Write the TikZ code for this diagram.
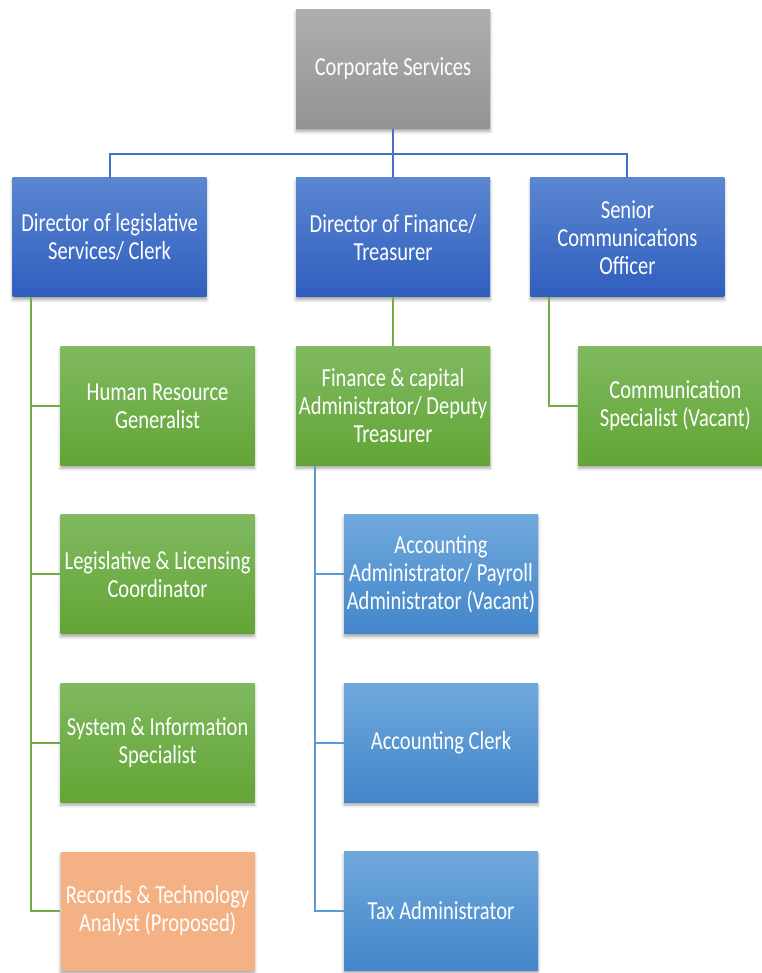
\documentclass[tikz,border=0pt]{standalone}
\usepackage{fontspec}
\setmainfont{Carlito}[FakeStretch=0.79]
\usepackage{tikz}
\usetikzlibrary{positioning}
\usetikzlibrary{shadows.blur}

\definecolor{linkblue}{HTML}{4472C4}
\definecolor{linkgreen}{HTML}{70AD47}
\definecolor{linklight}{HTML}{5B9BD5}

\begin{document}
\begin{tikzpicture}[x=1pt, y=1pt, node distance=49pt,
    box/.style={rectangle, minimum width=194pt, minimum height=119pt, inner sep=0pt,
        align=center, text=white, font=\fontsize{26}{28}\selectfont,
        blur shadow={shadow xshift=0pt, shadow yshift=-3pt, shadow blur radius=3pt, shadow opacity=35}},
    graybox/.style={box, top color={rgb,255:red,174;green,174;blue,174}, bottom color={rgb,255:red,147;green,147;blue,147}},
    bluebox/.style={box, top color={rgb,255:red,91;green,134;blue,209}, bottom color={rgb,255:red,47;green,94;blue,190}},
    greenbox/.style={box, top color={rgb,255:red,128;green,185;blue,96}, bottom color={rgb,255:red,98;green,165;blue,53}},
    lightbox/.style={box, top color={rgb,255:red,111;green,168;blue,220}, bottom color={rgb,255:red,67;green,134;blue,202}},
    orangebox/.style={box, fill={rgb,255:red,244;green,177;blue,131}},
    bluelink/.style={draw=linkblue, line width=2pt},
    greenlink/.style={draw=linkgreen, line width=2pt},
    lightlink/.style={draw=linklight, line width=2pt}]
    \useasboundingbox (0,0) rectangle (761,-973);

    %Boxes
    \node (corp) [graybox] at (393,-69) {Corporate Services};
    \node (dirfin) [bluebox, below=of corp] {Director of Finance/\\Treasurer};
    \node (dirleg) [bluebox, left=89pt of dirfin] {Director of legislative\\Services/ Clerk};
    \node (dirsen) [bluebox, right=40pt of dirfin] {Senior\\Communications\\Officer};

    \node (hr) [greenbox, below=of dirleg, xshift=48pt] {Human Resource\\Generalist};
    \node (legis) [greenbox, below=of hr] {Legislative \& Licensing\\Coordinator};
    \node (sysinfo) [greenbox, below=of legis] {System \& Information\\Specialist};
    \node (records) [orangebox, below=of sysinfo] {Records \& Technology\\Analyst (Proposed)};

    \node (fincap) [greenbox, below=of dirfin] {Finance \& capital\\Administrator/ Deputy\\Treasurer};
    \node (acctadmin) [lightbox, below=of fincap, xshift=48pt] {Accounting\\Administrator/ Payroll\\Administrator (Vacant)};
    \node (acctclerk) [lightbox, below=of acctadmin] {Accounting Clerk};
    \node (tax) [lightbox, below=of acctclerk] {Tax Administrator};

    \node (comm) [greenbox, below=of dirsen, xshift=48pt] {Communication\\Specialist (Vacant)};

    %Lines
    \draw[bluelink] (corp.south) -- ++(0,-25) coordinate (bus);
    \draw[bluelink] (bus) -| (dirleg.north);
    \draw[bluelink] (bus) -| (dirsen.north);
    \draw[bluelink] (bus) -- (dirfin.north);
    \foreach \kid in {hr,legis,sysinfo,records}
        \draw[greenlink] ([xshift=19pt]dirleg.south west) |- (\kid.west);
    \draw[greenlink] (dirfin.south) -- (fincap.north);
    \foreach \kid in {acctadmin,acctclerk,tax}
        \draw[lightlink] ([xshift=19pt]fincap.south west) |- (\kid.west);
    \draw[greenlink] ([xshift=19pt]dirsen.south west) |- (comm.west);
\end{tikzpicture}
\end{document}
